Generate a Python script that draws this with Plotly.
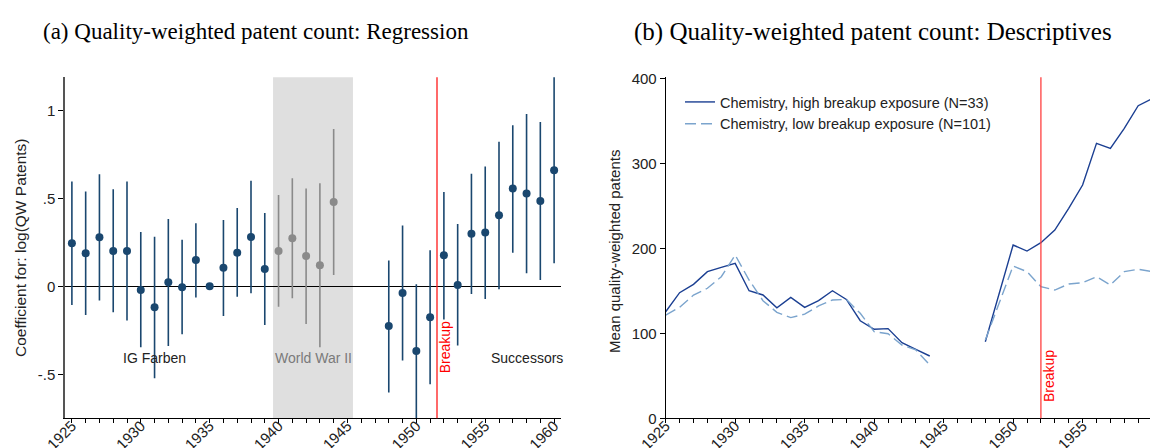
import plotly.graph_objects as go

# ---------------- Data ----------------
years_pre = [1925, 1926, 1927, 1928, 1929, 1930, 1931, 1932, 1933, 1934,
             1935, 1936, 1937, 1938, 1939]
coef_pre = [0.244, 0.188, 0.278, 0.200, 0.200, -0.021, -0.119, 0.023, -0.006, 0.150,
            0.000, 0.106, 0.191, 0.280, 0.098]
hi_pre = [0.595, 0.538, 0.636, 0.551, 0.595, 0.309, 0.282, 0.383, 0.265, 0.358,
          0.000, 0.377, 0.445, 0.600, 0.417]
lo_pre = [-0.106, -0.163, -0.081, -0.148, -0.195, -0.347, -0.523, -0.339, -0.273, -0.063,
          0.000, -0.169, -0.059, -0.040, -0.220]

years_war = [1940, 1941, 1942, 1943, 1944]
coef_war = [0.200, 0.273, 0.172, 0.119, 0.479]
hi_war = [0.519, 0.614, 0.555, 0.585, 0.894]
lo_war = [-0.116, -0.068, -0.214, -0.347, 0.064]

years_post = [1948, 1949, 1950, 1951, 1952, 1953, 1954, 1955, 1956, 1957,
              1958, 1959, 1960]
coef_post = [-0.225, -0.038, -0.367, -0.176, 0.176, 0.008, 0.299, 0.305, 0.403, 0.555,
             0.527, 0.485, 0.659]
hi_post = [0.146, 0.345, 0.011, 0.205, 0.536, 0.354, 0.640, 0.680, 0.822, 0.915,
           0.979, 0.934, 1.19]
lo_post = [-0.604, -0.422, -0.80, -0.557, -0.188, -0.337, -0.044, -0.072, -0.017, 0.191,
           0.074, 0.036, 0.131]

desc_years = list(range(1925, 1961))
high_exposure = [125.4, 147.8, 157.6, 172.5, 177.6, 182.3, 150.1, 145.1, 130.1, 142.3,
                 130.5, 138.4, 150.1, 139.9, 114.8, 104.7, 105.5, 89.0, 81.2, 73.3,
                 None, None, None, 90.1, 148.0, 203.9, 196.8, 206.6, 221.5, 247.0,
                 274.5, 323.5, 317.6, 341.2, 367.8, 376.0]
low_exposure = [121.5, 130.5, 145.0, 153.0, 166.6, 192.1, 162.7, 138.4, 124.7, 118.5,
                122.5, 132.2, 139.2, 139.9, 123.5, 101.9, 99.5, 86.2, 80.4, 62.7,
                None, None, None, 92.1, 136.0, 179.2, 172.5, 154.8, 150.9, 158.0,
                159.6, 166.6, 156.9, 172.5, 175.3, 172.5]

tick_years = list(range(1925, 1961))
tick_labels = [str(y) if y % 5 == 0 else "" for y in tick_years]
coef_tickvals = [-0.5, 0, 0.5, 1]
coef_ticktext = ["-.5", "0", ".5", "1"]
desc_tickvals = [0, 100, 200, 300, 400]

# ---------------- Layout helpers ----------------
W, H = 1150, 448
def px(x):
    return x / W
def py(y):
    return 1 - y / H

NAVY = "#1a476f"
GRAY = "#8a8a8a"
HIGH = "#1b3f92"
LOW = "#7ba4cd"
SANS = "Liberation Sans, Arial, sans-serif"
SERIF = "Liberation Serif, Times New Roman, serif"

fig = go.Figure()

def add_coef(xs, ys, hi, lo, color):
    fig.add_trace(go.Scatter(
        x=xs, y=ys, mode="markers",
        marker=dict(color=color, size=8),
        error_y=dict(type="data", symmetric=False,
                     array=[h - c for h, c in zip(hi, ys)],
                     arrayminus=[c - l for c, l in zip(ys, lo)],
                     color=color, thickness=1.6, width=0),
        showlegend=False, xaxis="x", yaxis="y"))

add_coef(years_pre, coef_pre, hi_pre, lo_pre, NAVY)
add_coef(years_war, coef_war, hi_war, lo_war, GRAY)
add_coef(years_post, coef_post, hi_post, lo_post, NAVY)

fig.add_trace(go.Scatter(
    x=desc_years, y=high_exposure, mode="lines", connectgaps=False,
    line=dict(color=HIGH, width=1.4),
    name="Chemistry, high breakup exposure (N=33)", xaxis="x2", yaxis="y2"))
fig.add_trace(go.Scatter(
    x=desc_years, y=low_exposure, mode="lines", connectgaps=False,
    line=dict(color=LOW, width=1.4, dash="11px,5px"),
    name="Chemistry, low breakup exposure (N=101)", xaxis="x2", yaxis="y2"))

ydom = [py(418.3), py(77.3)]
tickfont = dict(family=SANS, size=15, color="#222")

xcommon = dict(tickmode="array", tickvals=tick_years, ticktext=tick_labels,
               tickangle=-45, ticks="outside", ticklen=4, tickcolor="black",
               ticklabelstandoff=-12,
               showline=True, linecolor="black", linewidth=1,
               showgrid=False, zeroline=False, tickfont=tickfont, automargin=False)

fig.update_layout(
    width=W, height=H,
    margin=dict(l=0, r=0, t=0, b=0, autoexpand=False),
    paper_bgcolor="white", plot_bgcolor="white",
    xaxis=dict(domain=[px(65), px(561)], range=[1924.5, 1960.5], anchor="y", **xcommon),
    yaxis=dict(domain=ydom, range=[-0.75, 1.1875], automargin=False,
               tickmode="array", tickvals=coef_tickvals, ticktext=coef_ticktext,
               ticks="outside", ticklen=5, tickcolor="black",
               showline=True, linecolor="#555", linewidth=1.5,
               showgrid=False, zeroline=True, zerolinecolor="black", zerolinewidth=1.2,
               tickfont=tickfont, anchor="x"),
    xaxis2=dict(domain=[px(665.7), 1.0], range=[1925, 1959.85], anchor="y2", **xcommon),
    yaxis2=dict(domain=ydom, range=[0, 401.2], automargin=False,
                tickmode="array", tickvals=desc_tickvals,
                ticks="outside", ticklen=5, tickcolor="black",
                showline=True, linecolor="black", linewidth=1,
                showgrid=False, zeroline=False, tickfont=tickfont,
                anchor="x2"),
    legend=dict(x=px(680), y=py(86), xanchor="left", yanchor="top",
                bgcolor="rgba(0,0,0,0)", borderwidth=0,
                font=dict(family=SANS, size=14.5, color="#222"),
                tracegroupgap=0),
    showlegend=True,
)

# WWII shading
fig.add_shape(type="rect", xref="x", yref="y domain", x0=1939.6, x1=1945.4,
              y0=0, y1=1, fillcolor="#dfdfdf", line=dict(width=0), layer="below")
# Breakup lines
fig.add_shape(type="line", xref="x", yref="y domain", x0=1951.5, x1=1951.5,
              y0=0, y1=1, line=dict(color="#ff1a1a", width=1.3))
fig.add_shape(type="line", xref="x2", yref="y2 domain", x0=1952, x1=1952,
              y0=0, y1=1, line=dict(color="#ff4040", width=1.3))

ann = []
def text(x, y, s, size=14, color="#222", font=SANS, angle=0, xref="paper", yref="paper"):
    ann.append(dict(x=x, y=y, xref=xref, yref=yref, text=s, showarrow=False,
                    textangle=angle, xanchor="center", yanchor="middle",
                    font=dict(family=font, size=size, color=color)))

text(px(256), py(31.5), "(a) Quality-weighted patent count: Regression", size=23, color="black", font=SERIF)
text(px(873), py(31.5), "(b) Quality-weighted patent count: Descriptives", size=25, color="black", font=SERIF)
text(px(20), py(248), "Coefficient for: log(QW Patents)", size=15.5, angle=-90)
text(px(614), py(252), "Mean quality-weighted patents", size=15, angle=-90)
text(1931, -0.405, "IG Farben", size=14, xref="x", yref="y")
text(1942.5, -0.405, "World War II", size=14, color="#7a7a7a", xref="x", yref="y")
text(1958.05, -0.405, "Successors", size=14, xref="x", yref="y")
text(1952.1, -0.345, "Breakup", size=14, color="#ff0000", angle=-90, xref="x", yref="y")
text(1952.6, 50, "Breakup", size=14, color="#ff0000", angle=-90, xref="x2", yref="y2")
fig.update_layout(annotations=ann)

fig.write_html("out.html")
